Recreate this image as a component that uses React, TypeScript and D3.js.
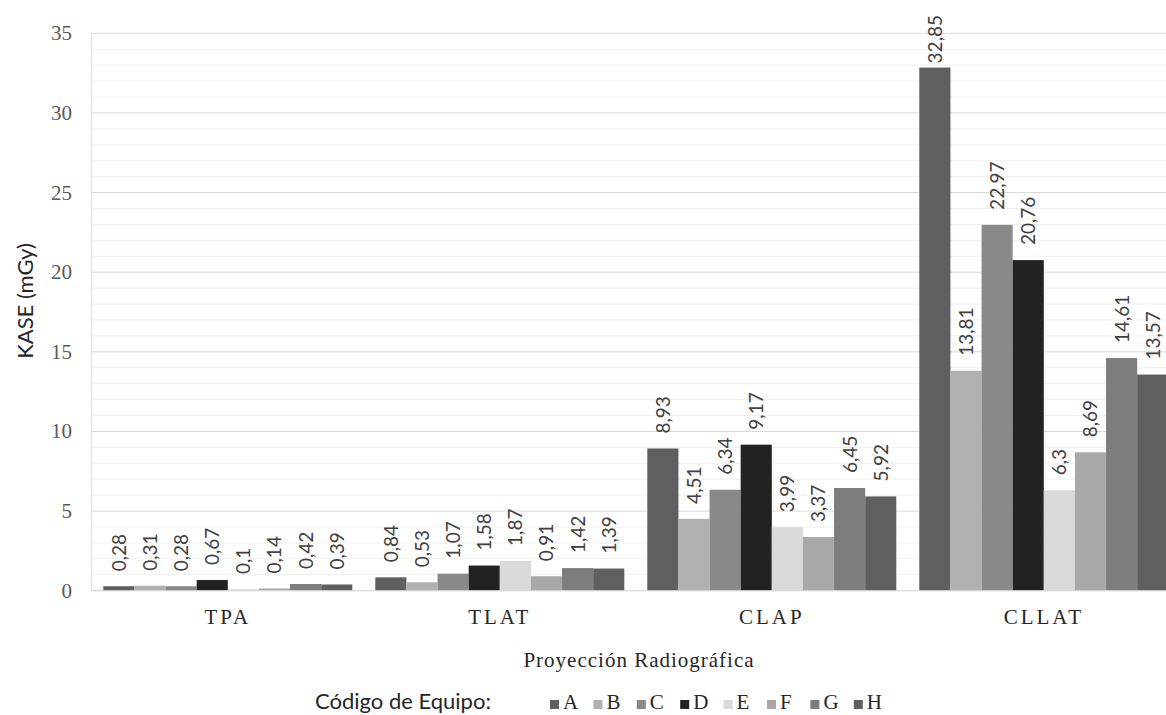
import React from "react";
import * as d3 from "d3";

const categories = ["TPA", "TLAT", "CLAP", "CLLAT"];
const seriesNames = ["A", "B", "C", "D", "E", "F", "G", "H"];
const seriesA = [0.28, 0.84, 8.93, 32.85];
const seriesB = [0.31, 0.53, 4.51, 13.81];
const seriesC = [0.28, 1.07, 6.34, 22.97];
const seriesD = [0.67, 1.58, 9.17, 20.76];
const seriesE = [0.1, 1.87, 3.99, 6.3];
const seriesF = [0.14, 0.91, 3.37, 8.69];
const seriesG = [0.42, 1.42, 6.45, 14.61];
const seriesH = [0.39, 1.39, 5.92, 13.57];
const yTicks = [0, 5, 10, 15, 20, 25, 30, 35];
const minorTicks = d3.range(0, 36, 1);

const seriesValues = [seriesA, seriesB, seriesC, seriesD, seriesE, seriesF, seriesG, seriesH];
const colors = ["#5f5f5f", "#b1b1b1", "#898989", "#222222", "#dadada", "#a8a8a8", "#7d7d7d", "#5f5f5f"];

const W = 1166;
const H = 715;
const plotLeft = 91.8;
const plotRight = 91.8 + 4 * 272;
const plotTop = 33.3;
const plotBottom = 590.7;

const fmt = (v: number) => String(v).replace(".", ",");
const estLen = (s: string) => s.split("").reduce((a, c) => a + (c === "," ? 4.4 : 11), 0);

export default function App() {
  const x0 = d3.scaleBand<string>().domain(categories).range([plotLeft, plotRight]).paddingInner(23 / 272).paddingOuter(11.5 / 272);
  const x1 = d3.scaleBand<string>().domain(seriesNames).range([0, x0.bandwidth()]);
  const y = d3.scaleLinear().domain([0, 35]).range([plotBottom, plotTop]);
  const serif = "'Liberation Serif', 'Times New Roman', serif";
  const sans = "Lato, 'Open Sans', sans-serif";

  return (
    <svg width={W} height={H} style={{ position: "absolute", left: 0, top: 0, background: "#fff" }}>
      {minorTicks.map((t) => (
        <line key={"m" + t} x1={plotLeft} x2={plotRight} y1={y(t)} y2={y(t)} stroke={t % 5 === 0 ? "#d9d9d9" : "#efefef"} strokeWidth={1} />
      ))}
      <line x1={plotLeft} x2={plotLeft} y1={plotTop} y2={plotBottom} stroke="#d9d9d9" />
      {yTicks.map((t) => (
        <text key={"y" + t} x={72} y={y(t) + 7} textAnchor="end" fontFamily={serif} fontSize={21} fill="#595959">
          {t}
        </text>
      ))}
      {seriesValues.map((vals, si) =>
        vals.map((v, ci) => {
          const bx = (x0(categories[ci]) as number) + (x1(seriesNames[si]) as number);
          const bw = x1.bandwidth();
          return (
            <rect key={`b${si}-${ci}`} x={bx} y={y(v)} width={bw} height={plotBottom - y(v)} fill={colors[si]} />
          );
        })
      )}
      <line x1={plotLeft} x2={plotRight} y1={plotBottom} y2={plotBottom} stroke="#d9d9d9" />
      {seriesValues.map((vals, si) =>
        vals.map((v, ci) => {
          const cx = (x0(categories[ci]) as number) + (x1(seriesNames[si]) as number) + x1.bandwidth() / 2;
          const s = fmt(v);
          const bottom = Math.max(y(v) - 15, 15 + estLen(s));
          return (
            <text key={`l${si}-${ci}`} transform={`translate(${cx + 7},${bottom}) rotate(-90)`} textAnchor="start" fontFamily={sans} fontSize={19} fill="#404040">
              {s}
            </text>
          );
        })
      )}
      {categories.map((c) => (
        <text key={"c" + c} x={(x0(c) as number) + x0.bandwidth() / 2} y={624} textAnchor="middle" fontFamily={serif} fontSize={21} letterSpacing={3} fill="#262626">
          {c}
        </text>
      ))}
      <text x={639} y={667} textAnchor="middle" fontFamily={serif} fontSize={21} letterSpacing={1} fill="#262626">
        Proyección Radiográfica
      </text>
      <text transform={`translate(33,301) rotate(-90)`} textAnchor="middle" fontFamily={sans} fontSize={22} fill="#262626">
        KASE (mGy)
      </text>
      <text x={315} y={709} fontFamily={sans} fontSize={22} fill="#262626">
        Código de Equipo:
      </text>
      {seriesNames.map((n, i) => (
        <g key={"lg" + n} transform={`translate(${550 + i * 43.4},0)`}>
          <rect x={0} y={700} width={9} height={9} fill={colors[i]} />
          <text x={13} y={709} fontFamily={serif} fontSize={21} fill="#262626">
            {n}
          </text>
        </g>
      ))}
    </svg>
  );
}
